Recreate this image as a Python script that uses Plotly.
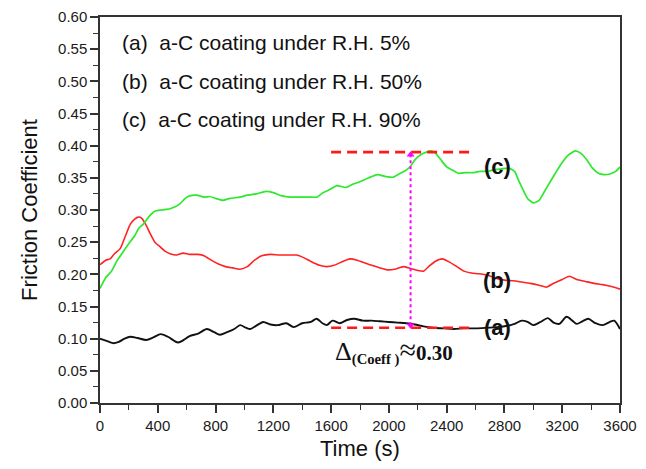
import plotly.graph_objects as go

# ---- data ----
t_c = [0, 40, 80, 120, 160, 200, 240, 270, 300, 340, 380, 430, 485, 520, 555, 590, 620, 670, 720, 760,
       800, 850, 900, 970, 1020, 1080, 1150, 1200, 1260, 1320, 1380, 1450, 1500, 1545, 1600, 1640, 1700,
       1750, 1800, 1860, 1920, 1980, 2030, 2080, 2120, 2150, 2180, 2220, 2260, 2290, 2320, 2360, 2400,
       2440, 2480, 2530, 2580, 2630, 2680, 2720, 2780, 2830, 2870, 2900, 2930, 2960, 3000, 3040, 3080,
       3120, 3160, 3200, 3240, 3290, 3330, 3370, 3410, 3450, 3490, 3530, 3570, 3600]
y_c = [0.178, 0.195, 0.205, 0.222, 0.235, 0.248, 0.260, 0.272, 0.278, 0.290, 0.298, 0.300, 0.302, 0.305,
       0.310, 0.318, 0.322, 0.323, 0.320, 0.321, 0.318, 0.315, 0.318, 0.320, 0.323, 0.325, 0.329, 0.327,
       0.322, 0.320, 0.320, 0.320, 0.320, 0.327, 0.333, 0.338, 0.335, 0.340, 0.344, 0.350, 0.355, 0.352,
       0.351, 0.357, 0.362, 0.368, 0.378, 0.386, 0.390, 0.392, 0.389, 0.378, 0.367, 0.362, 0.357, 0.358,
       0.358, 0.360, 0.360, 0.362, 0.364, 0.365, 0.360, 0.345, 0.331, 0.318, 0.311, 0.315, 0.330, 0.345,
       0.360, 0.374, 0.385, 0.392, 0.388, 0.378, 0.365, 0.357, 0.355, 0.356, 0.360, 0.367]

t_b = [0, 40, 70, 100, 140, 180, 210, 240, 265, 290, 320, 350, 380, 415, 450, 485, 530, 575, 620, 680,
       720, 770, 820, 870, 920, 970, 1020, 1070, 1120, 1180, 1240, 1300, 1360, 1410, 1460, 1520, 1570,
       1620, 1680, 1730, 1780, 1830, 1880, 1940, 1990, 2040, 2100, 2150, 2200, 2240, 2280, 2320, 2370,
       2420, 2470, 2520, 2570, 2620, 2680, 2740, 2800, 2860, 2920, 2980, 3040, 3090, 3140, 3200, 3250,
       3300, 3360, 3420, 3480, 3540, 3600]
y_b = [0.215, 0.222, 0.224, 0.232, 0.240, 0.262, 0.278, 0.286, 0.289, 0.287, 0.276, 0.262, 0.250, 0.243,
       0.236, 0.232, 0.230, 0.233, 0.231, 0.231, 0.229, 0.222, 0.216, 0.212, 0.210, 0.208, 0.212, 0.222,
       0.229, 0.231, 0.230, 0.230, 0.230, 0.226, 0.220, 0.214, 0.212, 0.214, 0.220, 0.224, 0.222, 0.218,
       0.214, 0.210, 0.207, 0.208, 0.212, 0.209, 0.206, 0.205, 0.213, 0.220, 0.224, 0.219, 0.212, 0.205,
       0.202, 0.201, 0.199, 0.194, 0.191, 0.190, 0.188, 0.186, 0.183, 0.180, 0.186, 0.192, 0.197, 0.192,
       0.189, 0.186, 0.184, 0.181, 0.177]

t_a = [0, 40, 90, 130, 170, 210, 260, 320, 370, 420, 470, 540, 580, 620, 680, 740, 790, 830, 880, 930,
       970, 1010, 1040, 1080, 1130, 1180, 1230, 1290, 1340, 1400, 1460, 1500, 1540, 1570, 1610, 1660, 1710,
       1760, 1820, 1880, 1940, 2000, 2060, 2120, 2180, 2240, 2300, 2380, 2450, 2520, 2600, 2680, 2750,
       2820, 2870, 2920, 2960, 3000, 3050, 3100, 3140, 3180, 3230, 3270, 3300, 3340, 3380, 3430, 3480,
       3530, 3560, 3600]
y_a = [0.100, 0.097, 0.093, 0.095, 0.100, 0.103, 0.101, 0.098, 0.102, 0.107, 0.103, 0.094, 0.098, 0.104,
       0.108, 0.115, 0.110, 0.106, 0.110, 0.115, 0.121, 0.117, 0.115, 0.120, 0.126, 0.122, 0.121, 0.124,
       0.118, 0.124, 0.126, 0.131, 0.124, 0.121, 0.128, 0.124, 0.129, 0.131, 0.128, 0.128, 0.127, 0.126,
       0.125, 0.124, 0.122, 0.119, 0.117, 0.116, 0.115, 0.116, 0.116, 0.117, 0.118, 0.120, 0.123, 0.128,
       0.126, 0.121, 0.126, 0.132, 0.125, 0.123, 0.134, 0.128, 0.123, 0.127, 0.131, 0.124, 0.121, 0.126,
       0.128, 0.115]

legend_lines = ["(a)\u00a0\u00a0a-C coating under R.H. 5%",
                "(b)\u00a0\u00a0a-C coating under R.H. 50%",
                "(c)\u00a0\u00a0a-C coating under R.H. 90%"]
legend_y = [0.560, 0.500, 0.441]
legend_x = 138

curve_labels = ["(a)", "(b)", "(c)"]
curve_label_y = [0.117, 0.191, 0.367]
curve_label_x = 2750

delta_x_range = [1600, 2560]
delta_levels = [0.117, 0.390]
delta_t = 2150
delta_text = ("<span style='font-size:26px'>Δ</span><sub><b>(Coeff )</b></sub>"
              "<span style='font-size:30px'>≈</span><b>0.30</b>")
delta_pos = (1610, 0.082)

x_title = "Time (s)"
y_title = "Friction Coefficient"

x_ticks = list(range(0, 3601, 400))
y_ticks = [round(0.05 * i, 2) for i in range(13)]

# ---- figure ----
fig = go.Figure()
fig.add_trace(go.Scatter(x=t_a, y=y_a, mode="lines", line=dict(color="#111111", width=1.9, shape="spline", smoothing=0.8),
                         showlegend=False))
fig.add_trace(go.Scatter(x=t_b, y=y_b, mode="lines", line=dict(color="#ff2222", width=1.6, shape="spline", smoothing=0.5),
                         showlegend=False))
fig.add_trace(go.Scatter(x=t_c, y=y_c, mode="lines", line=dict(color="#2ee82e", width=1.7, shape="spline", smoothing=0.5),
                         showlegend=False))

# red dashed reference levels
for lv in delta_levels:
    fig.add_trace(go.Scatter(x=delta_x_range, y=[lv, lv], mode="lines",
                             line=dict(color="#ff1a1a", width=2.6, dash="10px,6px"), showlegend=False))

# magenta dotted double arrow
fig.add_trace(go.Scatter(x=[delta_t, delta_t], y=[delta_levels[0] + 0.004, delta_levels[1] - 0.004],
                         mode="lines+markers",
                         line=dict(color="#ff00ff", width=2, dash="dot"),
                         marker=dict(symbol=["triangle-down", "triangle-up"], size=7, color="#ff00ff"),
                         showlegend=False))

for txt, yv in zip(legend_lines, legend_y):
    fig.add_annotation(x=legend_x, y=yv, text=txt, showarrow=False, xanchor="left", yanchor="middle",
                       font=dict(family="Arial, Liberation Sans", size=21, color="#111"))

for txt, yv in zip(curve_labels, curve_label_y):
    fig.add_annotation(x=curve_label_x, y=yv, text="<b>" + txt + "</b>", showarrow=False,
                       xanchor="center", yanchor="middle",
                       font=dict(family="Arial, Liberation Sans", size=22, color="#111"))

fig.add_annotation(x=delta_pos[0], y=delta_pos[1], text=delta_text, showarrow=False,
                   xanchor="left", yanchor="middle",
                   font=dict(family="Liberation Serif, Times New Roman", size=21, color="#111"))

# x-axis title placed as a paper annotation for exact vertical position
fig.add_annotation(x=0.5, y=-0.117, xref="paper", yref="paper", text=x_title, showarrow=False,
                   xanchor="center", yanchor="middle",
                   font=dict(family="Arial, Liberation Sans", size=22, color="#111"))

axis_common = dict(showline=True, linecolor="#333", linewidth=1.5, mirror=True, ticks="outside",
                   ticklen=8, tickwidth=1.5, tickcolor="#333", showgrid=False, zeroline=False,
                   automargin=False,
                   tickfont=dict(family="Arial, Liberation Sans", size=15, color="#1a1a1a"))

fig.update_xaxes(range=[0, 3600], tickvals=x_ticks,
                 minor=dict(dtick=200, tick0=0, ticks="outside", ticklen=5, tickwidth=1.3, tickcolor="#333"),
                 **axis_common)
fig.update_yaxes(range=[0, 0.6], tickvals=y_ticks, tickformat=".2f",
                 minor=dict(dtick=0.025, tick0=0, ticks="outside", ticklen=5, tickwidth=1.3, tickcolor="#333"),
                 title=dict(text=y_title,
                            font=dict(family="Arial, Liberation Sans", size=22, color="#111"), standoff=14),
                 **axis_common)

# the page body adds an 8px offset, so the figure is sized to fit the 646x469 window
fig.update_layout(width=638, height=461, margin=dict(l=92, r=26, t=9, b=66),
                  plot_bgcolor="white", paper_bgcolor="white")

fig.write_html("out.html")
